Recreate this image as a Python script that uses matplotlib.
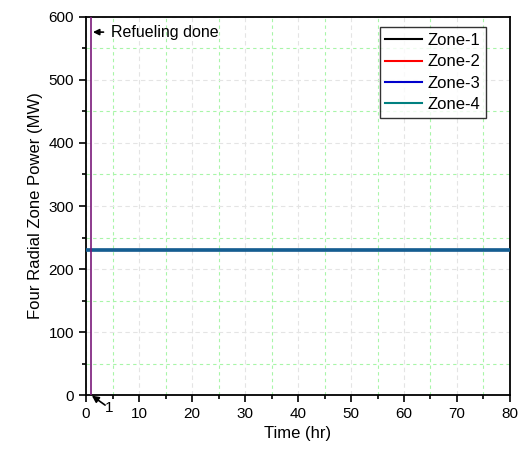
import matplotlib.pyplot as plt
from matplotlib.ticker import MultipleLocator

plt.rcParams['font.family'] = ['Liberation Sans', 'DejaVu Sans']

# zone power after refueling (MW)
time_hr = [0, 80]
zone_names = ['Zone-1', 'Zone-2', 'Zone-3', 'Zone-4']
zone_power = [[230, 230], [230, 230], [230, 230], [229.5, 229.5]]
zone_colors = ['black', 'red', '#0000cc', '#008080']
refuel_time = 1

fig = plt.figure(figsize=(5.22, 4.53), dpi=100)
ax = fig.add_axes([0.1648, 0.128, 0.977 - 0.1648, 0.9625 - 0.128])

for name, vals, c in zip(zone_names, zone_power, zone_colors):
    ax.plot(time_hr, vals, color=c, linewidth=1.5, label=name)
# heavy overlapped trace
ax.plot(time_hr, zone_power[2], color='#145e92', linewidth=2.6, zorder=3)

ax.axvline(refuel_time, color='#7a1a7a', linewidth=1.2, zorder=4)

ax.set_xlim(0, 80)
ax.set_ylim(0, 600)
ax.xaxis.set_major_locator(MultipleLocator(10))
ax.xaxis.set_minor_locator(MultipleLocator(5))
ax.yaxis.set_major_locator(MultipleLocator(100))
ax.yaxis.set_minor_locator(MultipleLocator(50))
ax.tick_params(which='both', direction='out', top=False, right=False, labelsize=11, width=1.2)
ax.tick_params(which='major', length=5)
ax.tick_params(which='minor', length=3)

ax.grid(True, which='major', color='#e4e4e4', linestyle=(0, (4, 3)), linewidth=0.8)
ax.grid(True, which='minor', color='#a8f5a8', linestyle=(0, (3, 3)), linewidth=0.8)
ax.set_axisbelow(True)
for s in ax.spines.values():
    s.set_linewidth(1.3)

ax.set_xlabel('Time (hr)', fontsize=12)
ax.set_ylabel('Four Radial Zone Power (MW)', fontsize=12)

# refueling marker labels
ax.annotate('', xy=(1.3, 576), xytext=(3.3, 576),
            arrowprops=dict(arrowstyle='-|>', color='black', lw=1.2,
                            shrinkA=0, shrinkB=0, mutation_scale=9))
ax.text(4.7, 576, 'Refueling done', fontsize=11.5, va='center', ha='left')
ax.annotate('', xy=(1.1, -1), xytext=(3.6, -16), annotation_clip=False,
            arrowprops=dict(arrowstyle='-|>', color='black', lw=1.2,
                            shrinkA=0, shrinkB=0, mutation_scale=10))
ax.text(4.4, -21, '1', fontsize=11, va='center', ha='center', clip_on=False)

leg = ax.legend(loc='upper right', bbox_to_anchor=(0.943, 0.973), fontsize=12,
                frameon=True, fancybox=False, edgecolor='black',
                handlelength=2.2, borderpad=0.35, labelspacing=0.38,
                handletextpad=0.3, borderaxespad=0)
leg.get_frame().set_linewidth(1.0)

fig.savefig('out.png', dpi=100)
